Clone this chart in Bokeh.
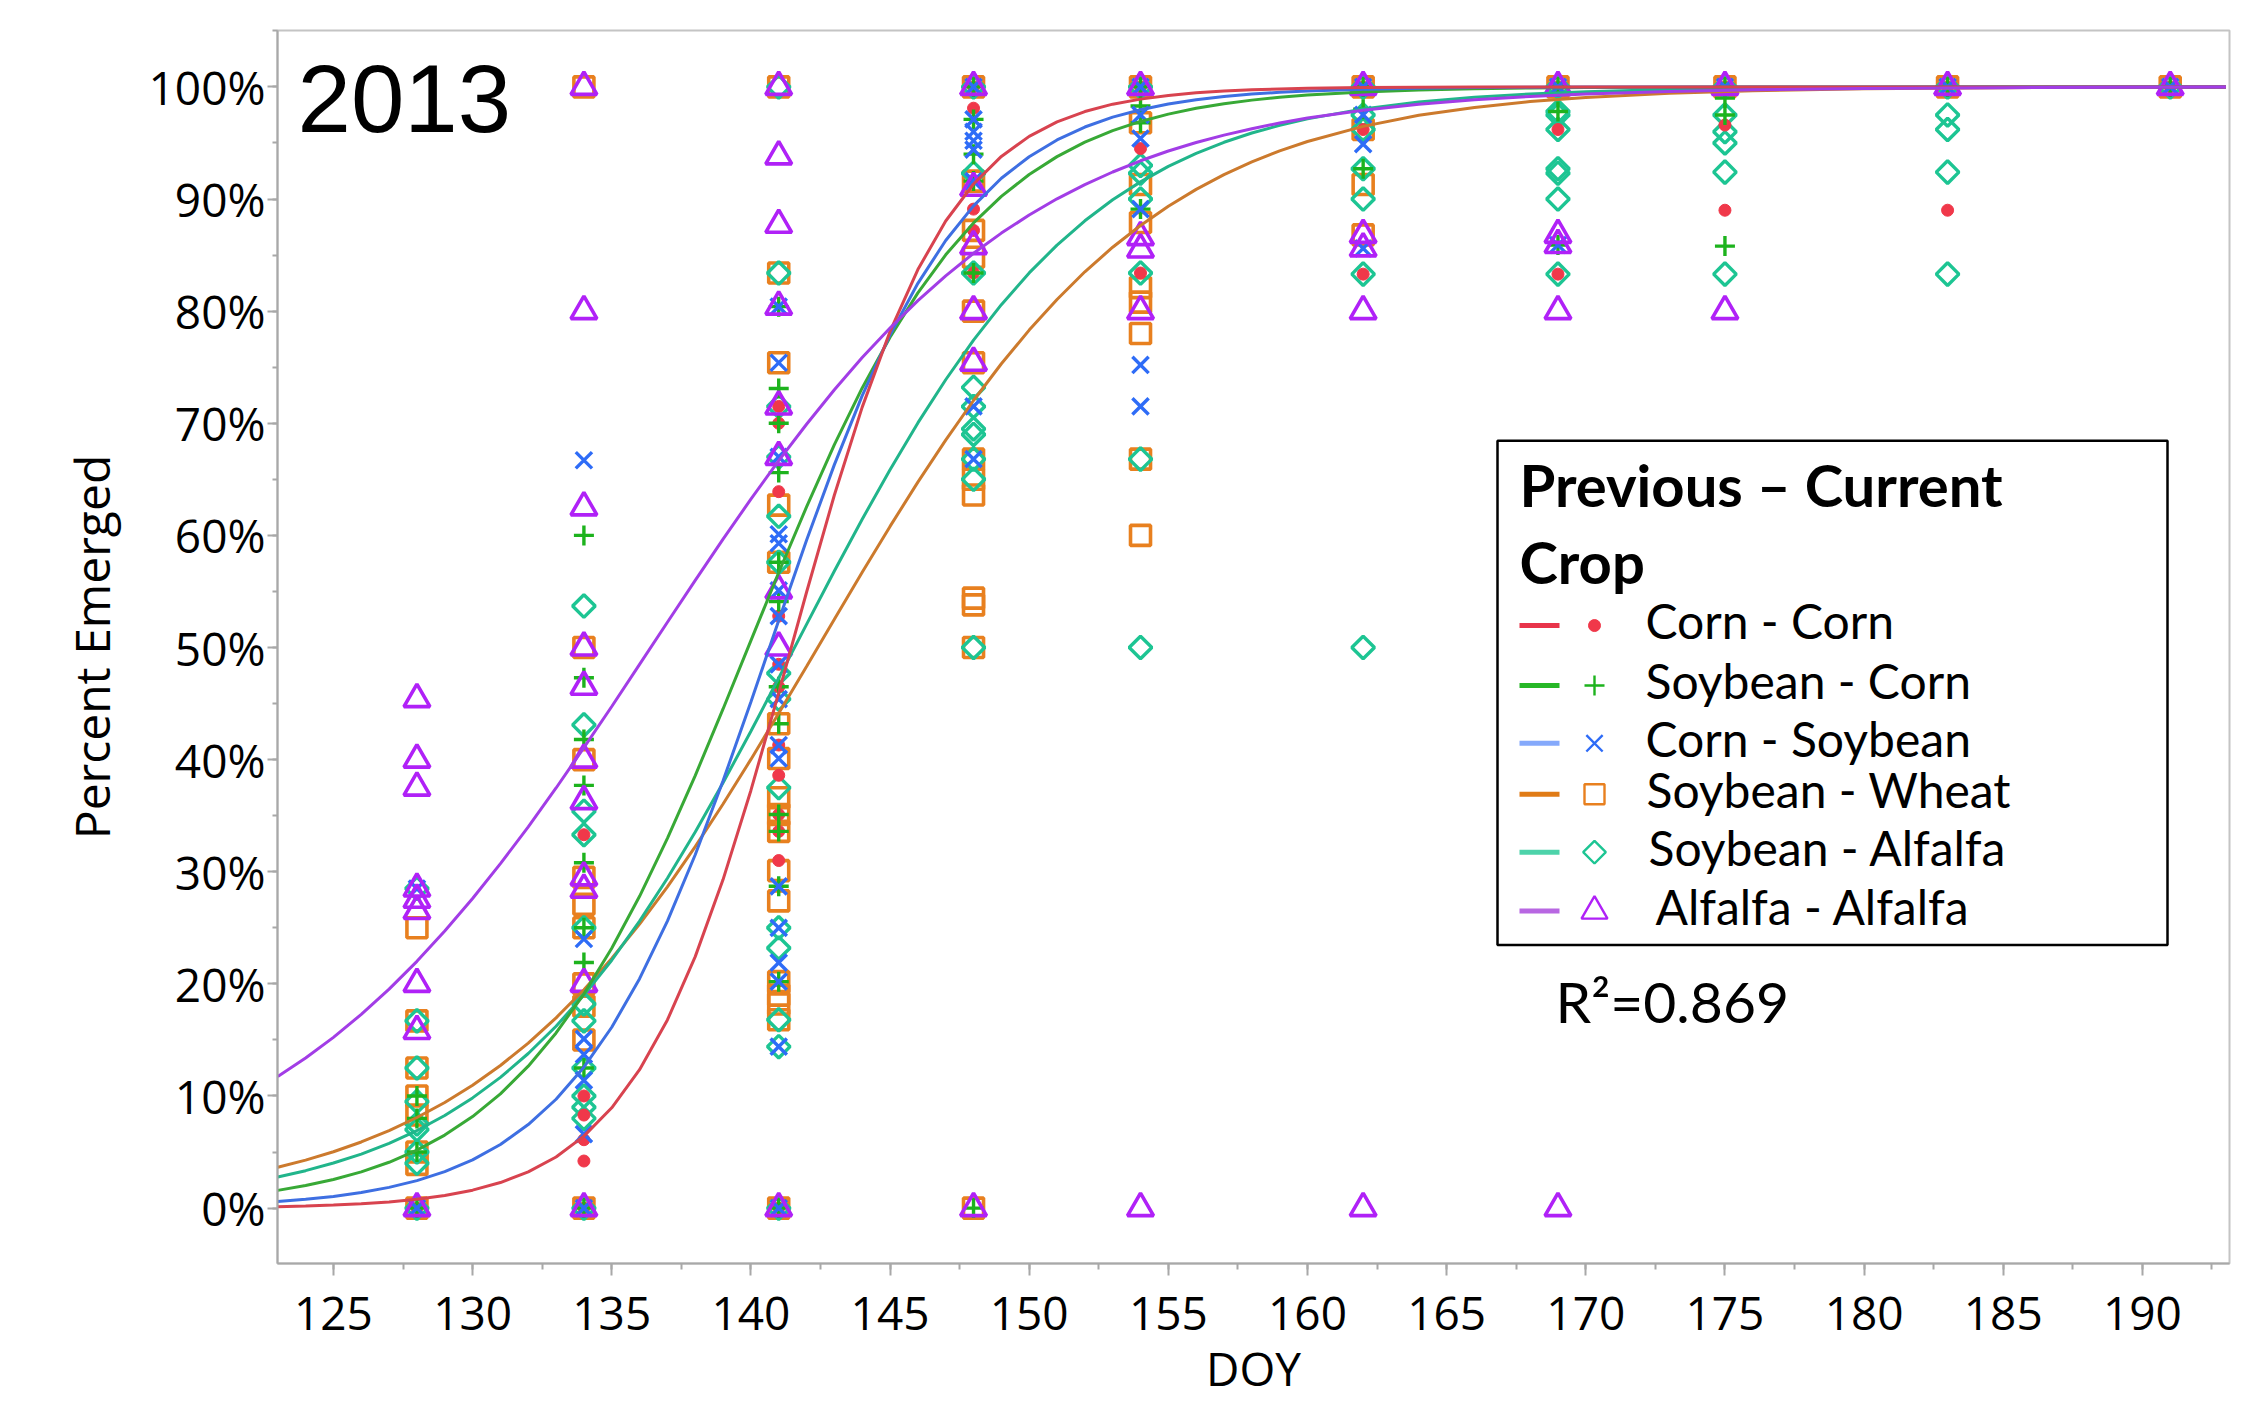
import math
from bokeh.plotting import figure
from bokeh.models import (Range1d, SingleIntervalTicker, PrintfTickFormatter,
                          Label, BoxAnnotation)
from bokeh.embed import file_html
from bokeh.resources import INLINE

# ---------------- data ----------------
SERIES = ["Corn - Corn", "Soybean - Corn", "Corn - Soybean",
          "Soybean - Wheat", "Soybean - Alfalfa", "Alfalfa - Alfalfa"]

# observed percent emerged per DOY
corn_corn = {
    128: [0],
    134: [33.3, 10, 8.3, 6.1, 4.2, 0],
    141: [71.5, 70, 63.9, 52.8, 48.5, 46.5, 41.3, 38.6, 35.1, 33.6, 31, 0],
    148: [100, 98.1, 89.1, 87.2, 83.4],
    154: [100, 94.5, 83.4],
    162: [100, 96.2, 83.3],
    169: [100, 96.2, 83.3],
    175: [100, 96.6, 89],
    183: [100, 89],
    191: [100],
}
soybean_corn = {
    128: [10, 8, 5, 0],
    134: [60, 47.3, 41.8, 37.7, 30.8, 25, 21.9, 12.5, 0],
    141: [80.4, 73.1, 70, 65.6, 57.6, 54.1, 46.5, 43.2, 35.1, 33.6, 28.7, 20.2, 0],
    148: [100, 97.1, 94, 91.6, 83.4, 0],
    154: [100, 98.3, 96.8, 89.1],
    162: [100, 98, 92.7],
    169: [100, 97.8, 85.9],
    175: [100, 99, 97.5, 85.8],
    183: [100],
    191: [100],
}
corn_soybean = {
    128: [28.5, 0],
    134: [66.7, 24, 15.1, 13.7, 11.4, 6.6, 0],
    141: [80.4, 75.4, 67, 60.1, 59.3, 55.1, 52.8, 48.5, 45.4, 41.3, 40.1, 28.7,
          25, 21.9, 20.2, 14.4, 0],
    148: [100, 97.1, 96, 95.2, 94.4, 91.6, 71.5, 66.8],
    154: [100, 97.5, 95.4, 89.1, 75.2, 71.5],
    162: [100, 97.5, 94.9, 85.6],
    169: [100, 85.9],
    175: [100],
    183: [100],
    191: [100],
}
soybean_wheat = {
    128: [25, 16.7, 12.5, 10, 8.3, 5, 3.9, 0],
    134: [100, 50, 40, 29.5, 27.1, 25, 20, 18, 15, 0],
    141: [100, 83.4, 75.4, 62.7, 57.6, 43.2, 40.1, 36.6, 35.1, 33.6, 30.1, 27.4,
          20.2, 19, 18.2, 16.8, 0],
    148: [100, 91.6, 87.2, 84.8, 80, 75.4, 66.8, 65, 63.6, 54.4, 53.8, 50, 0],
    154: [100, 96.8, 91.3, 87.9, 82.1, 80.8, 78, 66.8, 60],
    162: [100, 96.2, 91.3, 86.8],
    169: [100],
    175: [100],
    183: [100],
    191: [100],
}
soybean_alfalfa = {
    128: [28.5, 16.7, 12.5, 9.5, 7.5, 7, 5, 4, 0],
    134: [53.7, 43.1, 35.4, 33.3, 25, 18.2, 16.7, 12.5, 10, 9, 8, 0],
    141: [100, 83.4, 71.5, 67, 61.7, 57.6, 47.7, 45.4, 37.5, 25, 23.2, 16.8, 14.4, 0],
    148: [100, 92.3, 83.4, 73.2, 71.5, 69.5, 69, 66.8, 65, 50],
    154: [100, 93, 92.3, 90, 83.4, 66.8, 50],
    162: [100, 97.5, 96.2, 92.7, 90, 83.3, 50],
    169: [100, 97.8, 97.5, 96.2, 92.7, 92.3, 90, 83.3],
    175: [100, 97.5, 96, 95, 92.4, 83.3],
    183: [100, 97.5, 96.2, 92.4, 83.3],
    191: [100],
}
alfalfa_alfalfa = {
    128: [45.4, 40, 37.5, 28.5, 27.5, 26.5, 20, 15.8, 0],
    134: [100, 80, 62.5, 50, 46.5, 40, 36.3, 29.5, 28.4, 20, 0],
    141: [100, 93.8, 87.7, 80.4, 71.5, 67, 55.1, 50, 0],
    148: [100, 91, 85.8, 80, 75.4, 0],
    154: [100, 86.6, 85.5, 80, 0],
    162: [100, 86.8, 85.6, 80, 0],
    169: [100, 86.8, 85.9, 80, 0],
    175: [100, 80],
    183: [100],
    191: [100],
}

# fitted curves at these DOY values
FIT_DOY = [123, 124, 125, 126, 127, 128, 129, 130, 131, 132, 133, 134, 135, 136,
           137, 138, 139, 140, 141, 142, 143, 144, 145, 146, 147, 148, 149, 150,
           151, 152, 153, 154, 155, 156, 157, 158, 159, 160,
           162, 164, 166, 168, 170, 173, 176, 180, 185, 193]
fit_corn_corn = [0.13, 0.19, 0.27, 0.38, 0.55, 0.79, 1.12, 1.60, 2.28, 3.23, 4.56,
                 6.42, 8.95, 12.35, 16.78, 22.43, 29.30, 37.25, 45.96, 54.93, 63.60,
                 71.44, 78.19, 83.71, 88.04, 91.34, 93.80, 95.59, 96.88, 97.80, 98.46,
                 98.91, 99.24, 99.47, 99.63, 99.74, 99.82, 99.87,
                 99.94, 99.97, 99.98, 99.99, 99.99, 100, 100, 100, 100, 100]
fit_soybean_corn = [1.58, 2.01, 2.55, 3.23, 4.09, 5.17, 6.51, 8.16, 10.19, 12.66,
                    15.62, 19.11, 23.18, 27.81, 32.98, 38.58, 44.52, 50.61, 56.69,
                    62.54, 68.09, 73.15, 77.67, 81.63, 85.02, 87.87, 90.24, 92.19,
                    93.78, 95.07, 96.10, 96.92, 97.57, 98.09, 98.50, 98.82, 99.07, 99.27,
                    99.55, 99.72, 99.83, 99.90, 99.94, 99.97, 99.99, 100, 100, 100]
fit_corn_soybean = [0.58, 0.78, 1.04, 1.39, 1.85, 2.45, 3.25, 4.30, 5.67, 7.45, 9.71,
                    12.57, 16.13, 20.46, 25.60, 31.52, 38.11, 45.14, 52.40, 59.56,
                    66.31, 72.46, 77.88, 82.48, 86.30, 89.39, 91.85, 93.77, 95.27,
                    96.42, 97.30, 97.96, 98.47, 98.85, 99.14, 99.36, 99.52, 99.64,
                    99.80, 99.89, 99.94, 99.96, 99.98, 99.99, 100, 100, 100, 100]
fit_soybean_wheat = [3.64, 4.28, 5.03, 5.90, 6.91, 8.08, 9.42, 10.96, 12.72, 14.72,
                     16.97, 19.48, 22.27, 25.33, 28.66, 32.24, 36.04, 40.02, 44.13,
                     48.31, 52.52, 56.72, 60.80, 64.75, 68.50, 72.03, 75.31, 78.31,
                     81.04, 83.51, 85.70, 87.64, 89.36, 90.86, 92.17, 93.31, 94.29,
                     95.13, 96.48, 97.47, 98.17, 98.69, 99.06, 99.43, 99.66, 99.83,
                     99.93, 99.98]
fit_soybean_alfalfa = [2.77, 3.34, 4.02, 4.82, 5.78, 6.92, 8.26, 9.83, 11.66, 13.79,
                       16.22, 19.00, 22.11, 25.60, 29.42, 33.54, 37.94, 42.53, 47.28,
                       52.06, 56.82, 61.44, 65.86, 70.03, 73.88, 77.42, 80.58, 83.41,
                       85.89, 88.06, 89.94, 91.53, 92.91, 94.07, 95.06, 95.89, 96.57,
                       97.15, 98.04, 98.66, 99.08, 99.37, 99.57, 99.76, 99.86, 99.94,
                       99.98, 99.99]
fit_alfalfa_alfalfa = [11.73, 13.39, 15.23, 17.28, 19.53, 22.01, 24.71, 27.61, 30.72,
                       34.01, 37.47, 41.07, 44.74, 48.50, 52.25, 55.99, 59.67, 63.23,
                       66.66, 69.91, 72.99, 75.86, 78.50, 80.94, 83.15, 85.16, 86.96,
                       88.57, 90.02, 91.29, 92.41, 93.41, 94.28, 95.04, 95.70, 96.27,
                       96.78, 97.22, 97.92, 98.46, 98.85, 99.15, 99.37, 99.60, 99.74,
                       99.86, 99.93, 99.98]

R2_TEXT = "R\u00b2=0.869"
YEAR_TEXT = "2013"
LEGEND_TITLE = ["Previous \u2013 Current", "Crop"]
X_LABEL = "DOY"
Y_LABEL = "Percent Emerged"

# ---------------- styles ----------------
LINE_COLORS = ["#d8434f", "#38a936", "#3e6fe2", "#cc7a2d", "#21b58b", "#a23de6"]
MARK_COLORS = ["#f0384a", "#1db31d", "#2e6cf7", "#e8801f", "#1dc593", "#b021f7"]
LEG_LINE_COLORS = ["#e8344a", "#27b727", "#85a9fb", "#e07b16", "#4dd3aa", "#b867e2"]
MARKERS = ["circle", "cross", "x", "square", "square", "triangle"]
ANGLES = [0, 0, 0, 0, math.pi / 4, 0]
MSIZES = [12, 20, 23, 20, 16, 26]
MLW = [1, 3.4, 3.4, 3.6, 3.4, 3.6]

W, H = 2247, 1401
FL, FR, FT, FB = 277, 2229, 30, 1265          # frame edges in page pixels
X0, X1 = 122.99, 193.13
Y0, Y1 = -4.94, 105.03
BASE_SHIFT = 0.43                              # alphabetic anchor correction (em)


def dx(px):
    return X0 + (px - FL) * (X1 - X0) / (FR - FL)


def dy(py):
    return Y1 - (py - FT) * (Y1 - Y0) / (FB - FT)


def text_at(px, baseline_py, size, text, font, style="normal", align="left"):
    return Label(x=dx(px), y=dy(baseline_py - BASE_SHIFT * size), text=text,
                 text_font=font, text_font_size=f"{size}px", text_font_style=style,
                 text_color="black", text_align=align, text_baseline="alphabetic")


p = figure(width=W, height=H, output_backend="svg", toolbar_location=None,
           x_range=Range1d(X0, X1), y_range=Range1d(Y0, Y1),
           min_border_left=FL, min_border_right=W - FR,
           min_border_top=FT, min_border_bottom=H - FB)
p.grid.visible = False
p.background_fill_color = "white"
p.outline_line_color = "#c4c4c4"
p.outline_line_width = 2

p.xaxis.ticker = SingleIntervalTicker(interval=5, num_minor_ticks=2)
p.yaxis.ticker = SingleIntervalTicker(interval=10, num_minor_ticks=2)
p.yaxis.formatter = PrintfTickFormatter(format="%d%%")
for ax in (p.xaxis, p.yaxis):
    ax.axis_line_color = "#a8a8a8"
    ax.axis_line_width = 2
    ax.major_tick_line_color = "#a8a8a8"
    ax.minor_tick_line_color = "#a8a8a8"
    ax.major_tick_line_width = 2
    ax.minor_tick_line_width = 2
    ax.major_tick_in = 0
    ax.minor_tick_in = 0
    ax.major_label_text_font = "Open Sans"
    ax.major_label_text_font_size = "46px"
    ax.major_label_text_color = "black"
    ax.axis_label_text_font = "Open Sans"
    ax.axis_label_text_font_style = "normal"
    ax.axis_label_text_color = "black"
p.xaxis.major_tick_out = 12
p.xaxis.minor_tick_out = 6
p.xaxis.major_label_standoff = 21
p.xaxis.axis_label = X_LABEL
p.xaxis.axis_label_text_font_size = "46px"
p.xaxis.axis_label_standoff = 4
p.yaxis.major_tick_out = 10
p.yaxis.minor_tick_out = 5
p.yaxis.major_label_standoff = 2
p.yaxis.axis_label = Y_LABEL
p.yaxis.axis_label_text_font_size = "48px"
p.yaxis.axis_label_standoff = 22

# ---------------- points ----------------
DATA = [corn_corn, soybean_corn, corn_soybean, soybean_wheat, soybean_alfalfa, alfalfa_alfalfa]
FITS = [fit_corn_corn, fit_soybean_corn, fit_corn_soybean, fit_soybean_wheat,
        fit_soybean_alfalfa, fit_alfalfa_alfalfa]


def flat(d):
    xs, ys = [], []
    for k, vals in d.items():
        for v in vals:
            xs.append(k)
            ys.append(v)
    return xs, ys


def draw_marker(i, xs, ys, lw=None):
    if MARKERS[i] == "circle":
        p.scatter(xs, ys, marker="circle", size=MSIZES[i],
                  fill_color=MARK_COLORS[i], line_color=MARK_COLORS[i], line_width=1)
    else:
        p.scatter(xs, ys, marker=MARKERS[i], size=MSIZES[i],
                  angle=ANGLES[i], fill_alpha=0, line_color=MARK_COLORS[i],
                  line_width=MLW[i] if lw is None else lw)


for i in [3, 4, 0, 1, 2, 5]:
    xs, ys = flat(DATA[i])
    draw_marker(i, xs, ys)

# ---------------- fitted curves ----------------
for i in [3, 4, 1, 2, 0, 5]:
    p.line(FIT_DOY, FITS[i], line_color=LINE_COLORS[i], line_width=3)

# ---------------- texts ----------------
p.add_layout(text_at(297, 139, 96, YEAR_TEXT, "Liberation Sans"))
p.add_layout(text_at(1555, 1027, 57, R2_TEXT, "Lato"))

# ---------------- legend ----------------
p.add_layout(BoxAnnotation(left=dx(1497), right=dx(2167), top=dy(441), bottom=dy(946),
                           fill_alpha=0, line_color="black", line_alpha=1.0,
                           line_width=2.5))
p.add_layout(text_at(1519, 510, 58, LEGEND_TITLE[0], "Lato", style="bold"))
p.add_layout(text_at(1519, 587, 58, LEGEND_TITLE[1], "Lato", style="bold"))
ENTRY_CY = [626, 686, 744, 795, 853, 912]
ENTRY_TX = [1645, 1645, 1645, 1646, 1648, 1655]
for i, name in enumerate(SERIES):
    cy = ENTRY_CY[i]
    p.segment(x0=[dx(1519)], y0=[dy(cy)], x1=[dx(1559)], y1=[dy(cy)],
              line_color=LEG_LINE_COLORS[i], line_width=5)
    draw_marker(i, [dx(1594)], [dy(cy)], lw=2.4)
    p.add_layout(text_at(ENTRY_TX[i], cy + 16, 48, name, "Lato"))

open("out.html", "w").write(file_html(p, INLINE))
